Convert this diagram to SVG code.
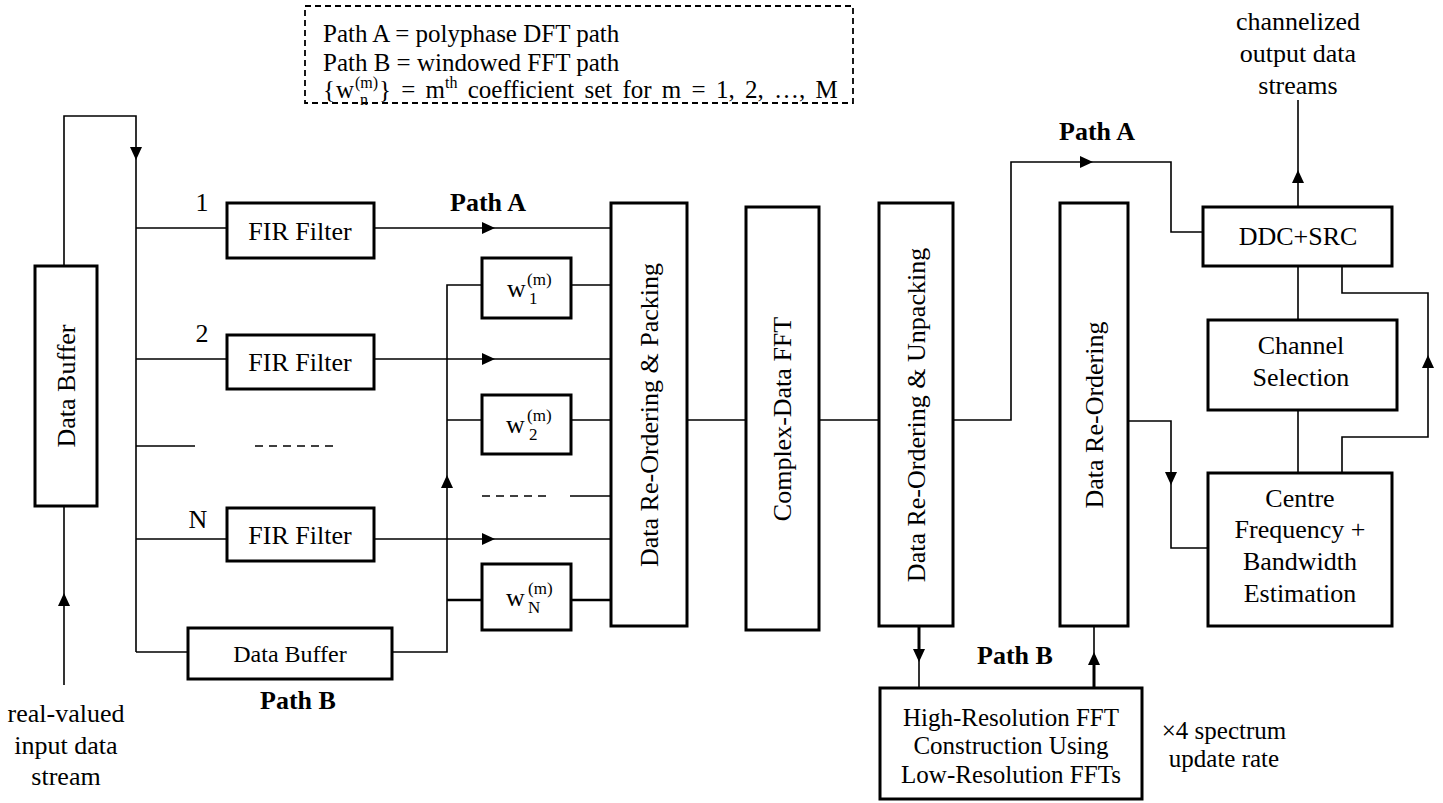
<svg xmlns="http://www.w3.org/2000/svg" xmlns:xlink="http://www.w3.org/1999/xlink" width="1443" height="803" viewBox="0 0 1443 803" font-family="'Liberation Serif', 'DejaVu Serif', serif">
<style>
  text { font-family: 'Liberation Serif', 'DejaVu Serif', serif; font-size: 26px; fill: #000; }
  .box { fill: #fff; stroke: #000; stroke-width: 3; }
  .ln { fill: none; stroke: #000; stroke-width: 1.6; }
  .thk { fill: none; stroke: #000; stroke-width: 3; }
  .dash { fill: none; stroke: #000; stroke-width: 1.6; stroke-dasharray: 8 6; }
  .b { font-weight: bold; }
  .m { text-anchor: middle; }
  .sm { font-size: 17px; }
  .lg { font-size: 25px; }
  .lgs { font-size: 16px; }
</style>
<defs>
  <path id="ah" d="M0,0 L-13,-6 L-13,6 Z" fill="#000"/>
</defs>
<rect width="1443" height="803" fill="#fff"/>

<g id="legend">
  <rect x="305" y="6" width="548" height="97" fill="none" stroke="#000" stroke-width="1.8" stroke-dasharray="6 4"/>
  <text class="lg" x="323" y="42">Path A = polyphase DFT path</text>
  <text class="lg" x="323" y="71">Path B = windowed FFT path</text>
  <text class="lg" x="323" y="98">{</text>
  <text class="lg" x="336" y="98">w</text>
  <text class="lgs" x="355" y="88">(m)</text>
  <text class="lgs" x="360" y="105">n</text>
  <text class="lg" x="379" y="98" style="word-spacing:4px">} = m<tspan class="lgs" dy="-10">th</tspan><tspan dy="10"> coefficient set for m = 1, 2, …, M</tspan></text>
</g>

<g id="connectors">
  <path class="ln" d="M64,685 V506"/>
  <use xlink:href="#ah" transform="translate(64,593) rotate(-90)"/>
  <path class="ln" d="M64,266 V116 H136 V652"/>
  <use xlink:href="#ah" transform="translate(136,160) rotate(90)"/>
  <path class="ln" d="M136,228 H227 M136,359 H227 M136,446 H195 M136,539 H227 M136,652 H188"/>
  <path class="dash" d="M255,446 H333"/>
  <path class="ln" d="M374,228 H611 M374,359 H611 M374,539 H611"/>
  <use xlink:href="#ah" transform="translate(495,228)"/>
  <use xlink:href="#ah" transform="translate(495,359)"/>
  <use xlink:href="#ah" transform="translate(495,539)"/>
  <path class="ln" d="M392,652 H447 V285 H482 M447,420 H482"/>
  <path class="thk" d="M447,600 H482 M571,600 H611" style="stroke-width:2.6"/>
  <use xlink:href="#ah" transform="translate(447,475) rotate(-90)"/>
  <path class="ln" d="M571,285 H611 M571,420 H611 M570,496 H611"/>
  <path class="dash" d="M482,496 H547"/>
  <path class="ln" d="M687,420 H746 M819,420 H879"/>
  <path class="ln" d="M953,420 H1011 V162 H1171 V232 H1203"/>
  <use xlink:href="#ah" transform="translate(1093,162)"/>
  <path class="thk" d="M919,626 V650"/>
  <path class="ln" d="M919,650 V688"/>
  <use xlink:href="#ah" transform="translate(919,662) rotate(90)"/>
  <path class="ln" d="M1094,626 V660"/>
  <path class="thk" d="M1094,660 V688"/>
  <use xlink:href="#ah" transform="translate(1094,652) rotate(-90)"/>
  <path class="ln" d="M1128,421 H1171 V548 H1208"/>
  <use xlink:href="#ah" transform="translate(1171,485) rotate(90)"/>
  <path class="ln" d="M1298,207 V100"/>
  <use xlink:href="#ah" transform="translate(1298,170) rotate(-90)"/>
  <path class="ln" d="M1298,266 V320 M1298,410 V473"/>
  <path class="ln" d="M1342,473 V437 H1428 V293 H1342 V266"/>
  <use xlink:href="#ah" transform="translate(1428,355) rotate(-90)"/>
</g>

<g id="data-buffer-in">
  <rect class="box" x="35" y="266" width="62" height="240"/>
  <text class="m" transform="translate(75,386) rotate(-90)">Data Buffer</text>
</g>

<g id="labels">
  <text class="m" x="202" y="211">1</text>
  <text class="m" x="202" y="342">2</text>
  <text class="m" x="198" y="528">N</text>
  <text class="m b" x="488" y="211">Path A</text>
  <text class="m b" x="298" y="709">Path B</text>
  <text class="m b" x="1097" y="140">Path A</text>
  <text class="m b" x="1015" y="664">Path B</text>
  <text class="m" x="66" y="722">real-valued</text>
  <text class="m" x="66" y="754">input data</text>
  <text class="m" x="66" y="785">stream</text>
  <text class="m" x="1298" y="30">channelized</text>
  <text class="m" x="1298" y="62">output data</text>
  <text class="m" x="1298" y="94">streams</text>
  <text class="m lg" x="1224" y="739">×4 spectrum</text>
  <text class="m lg" x="1224" y="767">update rate</text>
</g>

<g id="fir1">
  <rect class="box" x="227" y="203" width="147" height="55"/>
  <text class="m" x="300" y="240">FIR Filter</text>
</g>
<g id="fir2">
  <rect class="box" x="227" y="335" width="147" height="54"/>
  <text class="m" x="300" y="371">FIR Filter</text>
</g>
<g id="firN">
  <rect class="box" x="227" y="508" width="147" height="53"/>
  <text class="m" x="300" y="544">FIR Filter</text>
</g>
<g id="data-buffer-b">
  <rect class="box" x="188" y="628" width="204" height="51"/>
  <text class="m" x="290" y="662" style="font-size:24px">Data Buffer</text>
</g>

<g id="w1">
  <rect class="box" x="482" y="258" width="89" height="60"/>
  <text x="507" y="297">w</text>
  <text class="sm" x="527" y="285">(m)</text>
  <text class="sm" x="529" y="304">1</text>
</g>
<g id="w2">
  <rect class="box" x="482" y="395" width="89" height="59"/>
  <text x="506" y="433">w</text>
  <text class="sm" x="527" y="421">(m)</text>
  <text class="sm" x="529" y="440">2</text>
</g>
<g id="wN">
  <rect class="box" x="482" y="564" width="89" height="66"/>
  <text x="506" y="606">w</text>
  <text class="sm" x="528" y="594">(m)</text>
  <text class="sm" x="528" y="613">N</text>
</g>

<g id="packing">
  <rect class="box" x="611" y="203" width="76" height="423"/>
  <text class="m" transform="translate(658,415) rotate(-90)">Data Re-Ordering &amp; Packing</text>
</g>
<g id="fft">
  <rect class="box" x="746" y="207" width="73" height="423"/>
  <text class="m" transform="translate(791,419) rotate(-90)">Complex-Data FFT</text>
</g>
<g id="unpacking">
  <rect class="box" x="879" y="203" width="74" height="423"/>
  <text class="m" transform="translate(925,415) rotate(-90)">Data Re-Ordering &amp; Unpacking</text>
</g>
<g id="reordering">
  <rect class="box" x="1060" y="203" width="68" height="423"/>
  <text class="m" transform="translate(1103,415) rotate(-90)">Data Re-Ordering</text>
</g>
<g id="hires">
  <rect class="box" x="880" y="688" width="262" height="111"/>
  <text class="m lg" x="1011" y="726">High-Resolution FFT</text>
  <text class="m lg" x="1011" y="754">Construction Using</text>
  <text class="m lg" x="1011" y="783">Low-Resolution FFTs</text>
</g>
<g id="ddc">
  <rect class="box" x="1203" y="207" width="189" height="59"/>
  <text class="m" x="1298" y="245">DDC+SRC</text>
</g>
<g id="channel">
  <rect class="box" x="1208" y="320" width="189" height="90"/>
  <text class="m" x="1301" y="354">Channel</text>
  <text class="m" x="1301" y="386">Selection</text>
</g>
<g id="cf">
  <rect class="box" x="1208" y="473" width="184" height="153"/>
  <text class="m" x="1300" y="507">Centre</text>
  <text class="m" x="1300" y="538">Frequency +</text>
  <text class="m" x="1300" y="570">Bandwidth</text>
  <text class="m" x="1300" y="602">Estimation</text>
</g>
</svg>
